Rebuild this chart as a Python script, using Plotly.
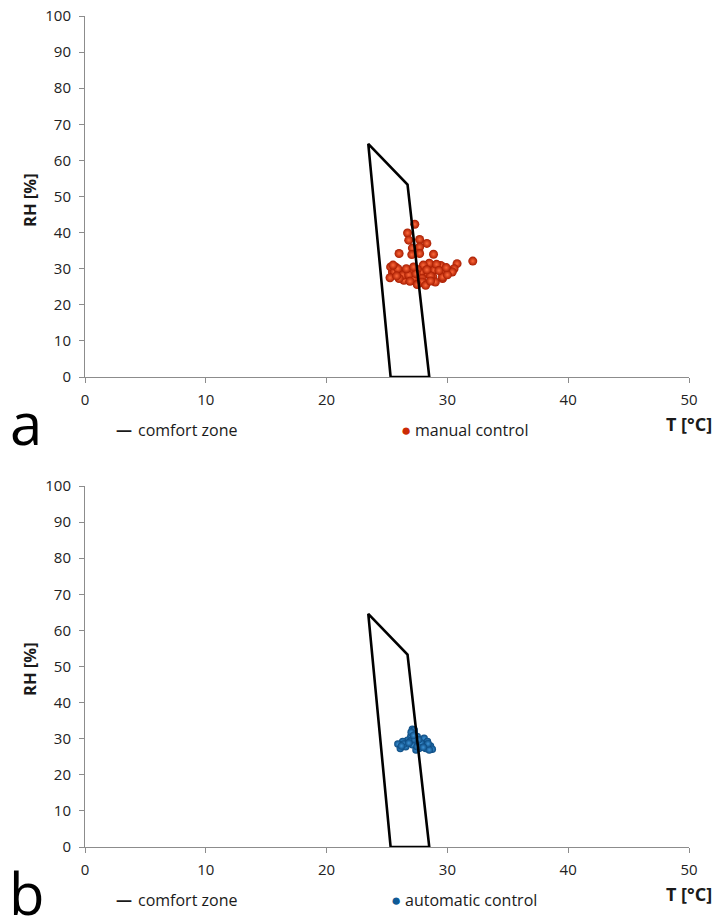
import plotly.graph_objects as go

# ---------------- data ----------------
zone_T = [25.3, 28.5, 26.7, 23.45, 25.3]
zone_RH = [0, 0, 53.3, 64.6, 0]

manual_T = [27.3, 26.7, 26.8, 27.7, 28.3, 27.1, 27.7, 26.0, 27.05, 27.7, 28.85, 32.1,
            30.8, 30.55, 30.1, 29.45, 28.8, 28.2, 28.9, 29.6, 28.35, 27.8, 27.0, 26.4,
            25.7, 26.0, 25.45, 26.4, 27.25, 27.9, 28.1, 28.8, 29.0, 29.6, 27.65, 25.3,
            25.6, 25.25, 25.9, 26.3, 26.0, 27.25, 27.9, 28.2, 29.6, 30.4,
            28.5, 29.1, 28.0, 27.5, 26.8, 27.4, 28.6, 29.3, 30.0, 26.9, 27.5, 28.6,
            25.8, 26.6, 29.9, 28.3, 27.2, 25.5]
manual_RH = [42.3, 39.9, 37.9, 38.1, 37.0, 35.7, 36.0, 34.2, 33.9, 34.2, 34.0, 32.1,
             31.4, 30.0, 29.4, 30.9, 30.9, 30.5, 29.6, 28.6, 28.6, 29.1, 29.1, 29.1,
             30.5, 29.1, 29.1, 26.8, 27.3, 27.3, 25.9, 27.7, 26.3, 27.3, 26.3, 30.5,
             29.1, 27.5, 30.0, 28.2, 27.3, 27.5, 26.3, 25.4, 27.7, 29.1,
             31.5, 31.2, 31.0, 29.8, 28.3, 28.6, 28.0, 29.5, 28.3, 26.5, 25.6, 26.6,
             28.0, 30.0, 30.3, 29.7, 30.5, 31.0]

auto_T = [27.1, 27.25, 26.97, 27.4, 26.7, 26.3, 25.9, 26.1, 26.55, 27.1, 27.65, 28.07,
          28.35, 28.6, 28.75, 28.2, 27.65, 27.4, 27.95, 27.5, 26.9, 26.4, 27.25, 28.5,
          27.0, 27.3, 27.8, 28.4, 26.8, 27.5, 28.0, 26.2, 27.2, 27.6]
auto_RH = [32.6, 31.5, 30.6, 30.1, 29.6, 29.2, 28.5, 27.3, 27.8, 28.3, 29.2, 30.1,
           29.2, 28.0, 27.1, 27.3, 27.3, 26.9, 28.3, 30.6, 29.2, 28.5, 32.4, 26.9,
           31.8, 29.8, 28.8, 28.6, 28.8, 27.8, 27.6, 28.0, 30.9, 29.7]

x_ticks = [0, 10, 20, 30, 40, 50]
y_ticks = [0, 10, 20, 30, 40, 50, 60, 70, 80, 90, 100]

# ---------------- layout helpers ----------------
OFF = 8                      # page body margin of the html
W, H = 723 - OFF, 918 - OFF  # figure fits the window
X0, X1 = 85, 689             # screen px of plot left / right
Y0, Y1 = 16, 847             # screen px of plot top / bottom
L = X0 - OFF
R = W - (X1 - OFF)
T = Y0 - OFF
B = H - (Y1 - OFF)
PW, PH = X1 - X0, Y1 - Y0


def px(x):
    return (x - X0) / PW


def py(y):
    return (Y1 - y) / PH


axis_font = dict(family="Open Sans", size=15, color="#222222")
axis_common = dict(showgrid=False, zeroline=False, showline=True, linecolor="#8c8c8c",
                   linewidth=1, ticks="outside", ticklen=5, tickcolor="#8c8c8c",
                   tickfont=axis_font, automargin=False, ticklabeloverflow="allow")

fig = go.Figure()

fig.add_trace(go.Scatter(x=manual_T, y=manual_RH, mode="markers", xaxis="x", yaxis="y",
                         name="manual control",
                         marker=dict(size=9, color="#a81c00",
                                     gradient=dict(type="radial", color="#ff6a3c"),
                                     line=dict(width=0))))
fig.add_trace(go.Scatter(x=zone_T, y=zone_RH, mode="lines", xaxis="x", yaxis="y",
                         name="comfort zone", line=dict(color="black", width=2.6)))

fig.add_trace(go.Scatter(x=auto_T, y=auto_RH, mode="markers", xaxis="x2", yaxis="y2",
                         name="automatic control",
                         marker=dict(size=7.5, color="#0c4a80",
                                     gradient=dict(type="radial", color="#3d93d6"),
                                     line=dict(width=0))))
fig.add_trace(go.Scatter(x=zone_T, y=zone_RH, mode="lines", xaxis="x2", yaxis="y2",
                         name="comfort zone", line=dict(color="black", width=2.6)))

AX_A = 377   # screen y of panel a x-axis
AX_B = 847   # screen y of panel b x-axis
TOP_B = 486  # screen y of panel b top (100)

dom_a = [py(AX_A), 1]
dom_b = [0, py(TOP_B)]

fig.update_layout(
    template="none",
    width=W, height=H,
    margin=dict(l=L, r=R, t=T, b=B, pad=0),
    paper_bgcolor="white", plot_bgcolor="white",
    showlegend=False,
    xaxis=dict(domain=[0, 1], range=[0, 50], tickvals=x_ticks, anchor="y",
               ticklabelstandoff=4, **axis_common),
    yaxis=dict(domain=dom_a, range=[0, 100], tickvals=y_ticks, anchor="x",
               ticklabelstandoff=5, **axis_common),
    xaxis2=dict(domain=[0, 1], range=[0, 50], tickvals=x_ticks, anchor="y2",
                ticklabelstandoff=4, **axis_common),
    yaxis2=dict(domain=dom_b, range=[0, 100], tickvals=y_ticks, anchor="x2",
                ticklabelstandoff=5, **axis_common),
)

title_font = dict(family="Open Sans", size=16.5, color="#1a1a1a", weight="bold")
legend_font = dict(family="Open Sans", size=16, color="#1a1a1a")
letter_font = dict(family="Open Sans", size=58, color="black")

ann = []


def add(text, x, y, font, xanchor="center", yanchor="middle", angle=0):
    ann.append(dict(text=text, x=px(x), y=py(y), xref="paper", yref="paper",
                    showarrow=False, font=font, xanchor=xanchor, yanchor=yanchor,
                    textangle=angle))


def panel_texts(ax_y, rh_y, letter, dot_x, label, dot_color, letter_x):
    add("RH [%]", 29, rh_y, title_font, angle=-90)
    add("T [°C]", 689, ax_y + 47, dict(title_font, size=18))
    add("—", 124, ax_y + 52, dict(legend_font, weight="bold"))
    add("comfort zone", 136, ax_y + 53, legend_font, xanchor="left")
    add(f"<span style='color:{dot_color}'>●</span>", dot_x, ax_y + 52,
        dict(legend_font, size=17))
    add(label, dot_x + 7, ax_y + 53, legend_font, xanchor="left")
    add(letter, letter_x, ax_y + 45, letter_font)


panel_texts(AX_A, 200, "a", 406, "manual control", "#cc2a05", 26)
panel_texts(AX_B, 669, "b", 396, "automatic control", "#0f5a96", 27)

fig.update_layout(annotations=ann)

fig.write_html("out.html")
